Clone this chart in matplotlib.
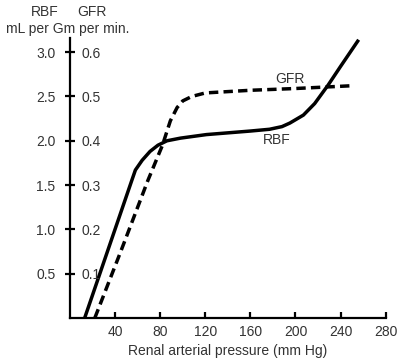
import matplotlib.pyplot as plt

plt.rcParams["font.family"] = ["Liberation Sans", "DejaVu Sans"]

# pressure in mm Hg, RBF in mL per Gm per min
rbf_pressure = [13, 55, 58, 64, 71, 78, 86, 98, 121, 160, 177, 188, 195, 207, 217, 229, 240, 256]
rbf_values = [0.0, 1.56, 1.67, 1.78, 1.88, 1.95, 2.0, 2.03, 2.07, 2.11, 2.13, 2.16, 2.20, 2.29, 2.42, 2.63, 2.84, 3.14]

# GFR in mL per Gm per min
gfr_pressure = [22, 45, 69, 82, 89, 95, 100, 108, 120, 160, 200, 248]
gfr_values = [0.0, 0.15, 0.31, 0.39, 0.445, 0.475, 0.49, 0.50, 0.508, 0.514, 0.518, 0.524]

x_ticks = [40, 80, 120, 160, 200, 240, 280]
rbf_ticks = [0.5, 1.0, 1.5, 2.0, 2.5, 3.0]
gfr_ticks = [0.1, 0.2, 0.3, 0.4, 0.5, 0.6]

text_color = "#333333"
fs = 10

fig = plt.figure(figsize=(4.04, 3.63), dpi=100)
ax = fig.add_axes([70 / 404, 45 / 363, 315.7 / 404, 280 / 363])
ax2 = ax.twinx()

ax.set_xlim(0, 280)
ax.set_ylim(0, 3.16)
ax2.set_ylim(0, 3.16 / 5)

ax.plot(rbf_pressure, rbf_values, color="black", lw=2.5,
        solid_capstyle="butt", solid_joinstyle="round")
ax2.plot(gfr_pressure, gfr_values, color="black", lw=2.5,
         dashes=(2.7, 1.5), dash_capstyle="butt")

for a in (ax, ax2):
    for s in ("top", "right", "left", "bottom"):
        a.spines[s].set_visible(False)

ax.spines["left"].set_visible(True)
ax.spines["bottom"].set_visible(True)
ax.spines["left"].set_linewidth(1.6)
ax.spines["bottom"].set_linewidth(1.6)

ax.set_xticks(x_ticks)
ax.set_xticklabels([str(t) for t in x_ticks])
ax.set_yticks(rbf_ticks)
ax.set_yticklabels([f"{t:.1f}" for t in rbf_ticks])
ax.tick_params(axis="x", direction="in", length=4, width=1.6, pad=5,
               labelsize=fs, labelcolor=text_color)
ax.tick_params(axis="y", direction="inout", length=7, width=1.6, pad=7,
               labelsize=fs, labelcolor=text_color)

ax2.set_yticks(gfr_ticks)
ax2.set_yticklabels([f"{t:.1f}" for t in gfr_ticks])
ax2.spines["right"].set_position(("axes", 0))
ax2.tick_params(axis="y", length=0, pad=8, labelsize=fs, labelcolor=text_color)

ax.set_xlabel("Renal arterial pressure (mm Hg)", fontsize=fs, color=text_color, labelpad=4)

ax.text(195, 2.70, "GFR", ha="center", va="center", fontsize=fs, color=text_color)
ax.text(183, 2.01, "RBF", ha="center", va="center", fontsize=fs, color=text_color)

fig.text(45 / 404, 1 - 12.5 / 363, "RBF", ha="center", va="center", fontsize=fs, color=text_color)
fig.text(92 / 404, 1 - 12.5 / 363, "GFR", ha="center", va="center", fontsize=fs, color=text_color)
fig.text(68 / 404, 1 - 29 / 363, "mL per Gm per min.", ha="center", va="center",
         fontsize=fs, color=text_color)

fig.savefig("out.png", dpi=100)
